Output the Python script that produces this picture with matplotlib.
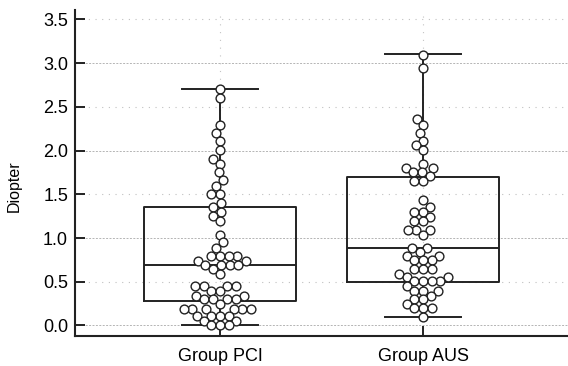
import numpy as np
import matplotlib
matplotlib.use("Agg")
from matplotlib import pyplot as plt

plt.rcParams["font.family"] = ["Liberation Sans", "DejaVu Sans"]

groups = ["Group PCI", "Group AUS"]

# diopter values
pci = [2.70, 2.60, 2.29, 2.20, 2.11, 2.01, 1.91, 1.85, 1.75, 1.66, 1.59,
       1.50, 1.50, 1.40, 1.35, 1.30, 1.25, 1.19, 1.04, 0.95, 0.89,
       0.80, 0.80, 0.80, 0.80, 0.74, 0.74, 0.69, 0.69, 0.69, 0.69,
       0.65, 0.59, 0.45, 0.45, 0.45, 0.45, 0.40, 0.40, 0.34, 0.34,
       0.30, 0.30, 0.30, 0.30, 0.25, 0.19, 0.19, 0.19, 0.19, 0.19, 0.19,
       0.11, 0.11, 0.11, 0.11, 0.05, 0.05, 0.0, 0.0, 0.0]
aus = [3.09, 2.95, 2.36, 2.29, 2.20, 2.11, 2.06, 2.01, 1.85, 1.80, 1.80,
       1.75, 1.75, 1.71, 1.65, 1.65, 1.44, 1.35, 1.30, 1.30, 1.24,
       1.19, 1.19, 1.09, 1.09, 1.09, 1.03, 0.89, 0.89, 0.84, 0.79, 0.79,
       0.75, 0.75, 0.75, 0.65, 0.65, 0.65, 0.59, 0.55, 0.55,
       0.51, 0.51, 0.51, 0.51, 0.45, 0.40, 0.40, 0.40, 0.34, 0.30, 0.30,
       0.25, 0.20, 0.20, 0.20, 0.10]

# box stats (q1, median, q3, whisker low, whisker high)
pci_box = dict(q1=0.28, med=0.69, q3=1.35, whislo=0.0, whishi=2.70)
aus_box = dict(q1=0.50, med=0.89, q3=1.70, whislo=0.10, whishi=3.10)

fig = plt.figure(figsize=(5.68, 3.66), dpi=100)
ax = fig.add_axes([0.132, 0.082, 0.868, 0.891])
ax.set_xlim(0.286, 2.714)
ax.set_ylim(-0.12, 3.61)

# grid: integer lines dense, half lines sparse
for v in np.arange(0, 3.51, 0.5):
    if abs(v - round(v)) < 1e-6:
        ax.axhline(v, color="#b4b4b4", lw=0.7, ls=(0, (2, 1.5)), zorder=0)
    else:
        ax.axhline(v, color="#c0c0c0", lw=0.8, ls=(0, (1, 5)), zorder=0)
for xp in (1, 2):
    ax.axvline(xp, color="#c4c4c4", lw=0.8, ls=(0, (1, 6)), zorder=0)

stats = []
for name, b in zip(groups, [pci_box, aus_box]):
    s = dict(b)
    s["label"] = name
    s["fliers"] = []
    stats.append(s)

lw = 1.4
ax.bxp(stats, positions=[1, 2], widths=0.75, showfliers=False,
       boxprops=dict(color="#222222", lw=lw),
       medianprops=dict(color="#222222", lw=lw),
       whiskerprops=dict(color="#222222", lw=lw),
       capprops=dict(color="#222222", lw=lw), capwidths=0.375,
       manage_ticks=False, zorder=2)


def swarm(vals, center, diam):
    # simple beeswarm in pixel space
    vals = np.asarray(vals, float)
    pts = ax.transData.transform(np.column_stack([np.full(len(vals), center), vals]))
    order = np.argsort(pts[:, 1])
    placed = []
    xs = np.zeros(len(vals))
    cx = pts[0, 0]
    for i in order:
        y = pts[i, 1]
        cands = [cx]
        for (px, py) in placed:
            dy = y - py
            if abs(dy) < diam:
                dx = np.sqrt(diam ** 2 - dy ** 2)
                cands += [px - dx, px + dx]
        cands.sort(key=lambda c: abs(c - cx))
        for c in cands:
            ok = all((c - px) ** 2 + (y - py) ** 2 >= diam ** 2 - 1e-6 for px, py in placed)
            if ok:
                break
        placed.append((c, y))
        xs[i] = c
    data = ax.transData.inverted().transform(np.column_stack([xs, pts[:, 1]]))
    return data[:, 0]


for pos, vals in zip([1, 2], [pci, aus]):
    xv = swarm(vals, pos, 8.6)
    ax.scatter(xv, vals, s=40, facecolor="white", edgecolor="#222222",
               linewidths=1.0, zorder=3)

ax.spines["top"].set_visible(False)
ax.spines["right"].set_visible(False)
for side in ("left", "bottom"):
    ax.spines[side].set_linewidth(1.5)
    ax.spines[side].set_color("#222222")

ax.set_yticks(np.arange(0, 3.51, 0.5))
ax.set_yticklabels([f"{v:.1f}" for v in np.arange(0, 3.51, 0.5)])
ax.set_xticks([1, 2])
ax.set_xticklabels(groups)
ax.tick_params(axis="y", direction="in", length=7, width=1.4, labelsize=13,
               color="#222222", pad=5)
ax.tick_params(axis="x", direction="in", length=7, width=1.4, labelsize=13,
               color="#222222", pad=9)
ax.set_ylabel("Diopter", fontsize=11.5)
ax.yaxis.set_label_coords(-0.107, 0.46)

fig.savefig("out.png", dpi=100)
